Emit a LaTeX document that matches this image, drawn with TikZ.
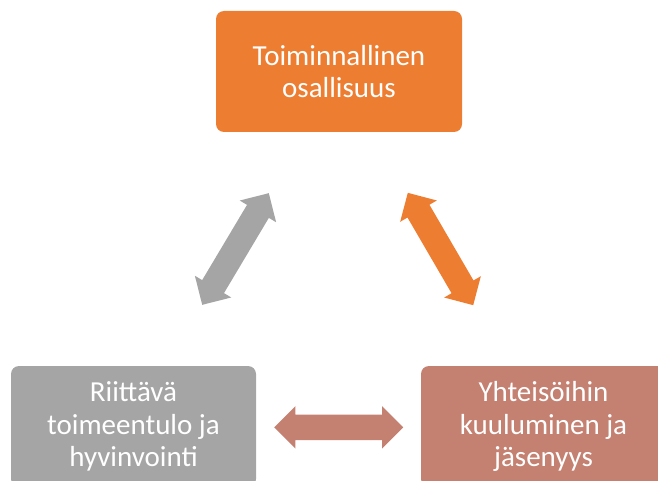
\documentclass[tikz,border=0pt]{standalone}
\usepackage{fontspec}
\setmainfont{Carlito}
\usetikzlibrary{shapes.arrows}
\definecolor{boxorange}{RGB}{237,125,49}
\definecolor{boxgray}{RGB}{165,165,165}
\definecolor{boxbrown}{RGB}{196,128,112}
\tikzset{
  box/.style={rounded corners=8pt, minimum width=245pt, minimum height=121pt, inner sep=0pt,
    text=white, align=center, font=\fontsize{29}{32.5}\selectfont},
  blockarrow/.style={double arrow, inner xsep=0pt, inner ysep=12.5pt, minimum height=130pt, minimum width=0pt,
    double arrow head extend=8.5pt, double arrow tip angle=90, draw=none}
}
\begin{document}
\begin{tikzpicture}[x=1pt,y=-1pt]
\useasboundingbox (0,0) rectangle (658,481);
\clip (0,0) rectangle (658,481);
\node[box, fill=boxorange, minimum width=246pt] (top) at (339,71.5) {Toiminnallinen\\osallisuus};
\node[box, fill=boxgray] (left) at (133.5,426.5) {Riittävä\\toimeentulo ja\\hyvinvointi};
\node[box, fill=boxbrown] (right) at (543.5,426.5) {Yhteisöihin\\kuuluminen ja\\jäsenyys};
\node[blockarrow, fill=boxgray, rotate=59.2] (a1) at (235.5,249) {};
\node[blockarrow, fill=boxorange, rotate=-59.8] (a2) at (440.5,249) {};
\node[blockarrow, fill=boxbrown, minimum height=129pt] (a3) at (338.7,427.3) {};
\end{tikzpicture}
\end{document}
